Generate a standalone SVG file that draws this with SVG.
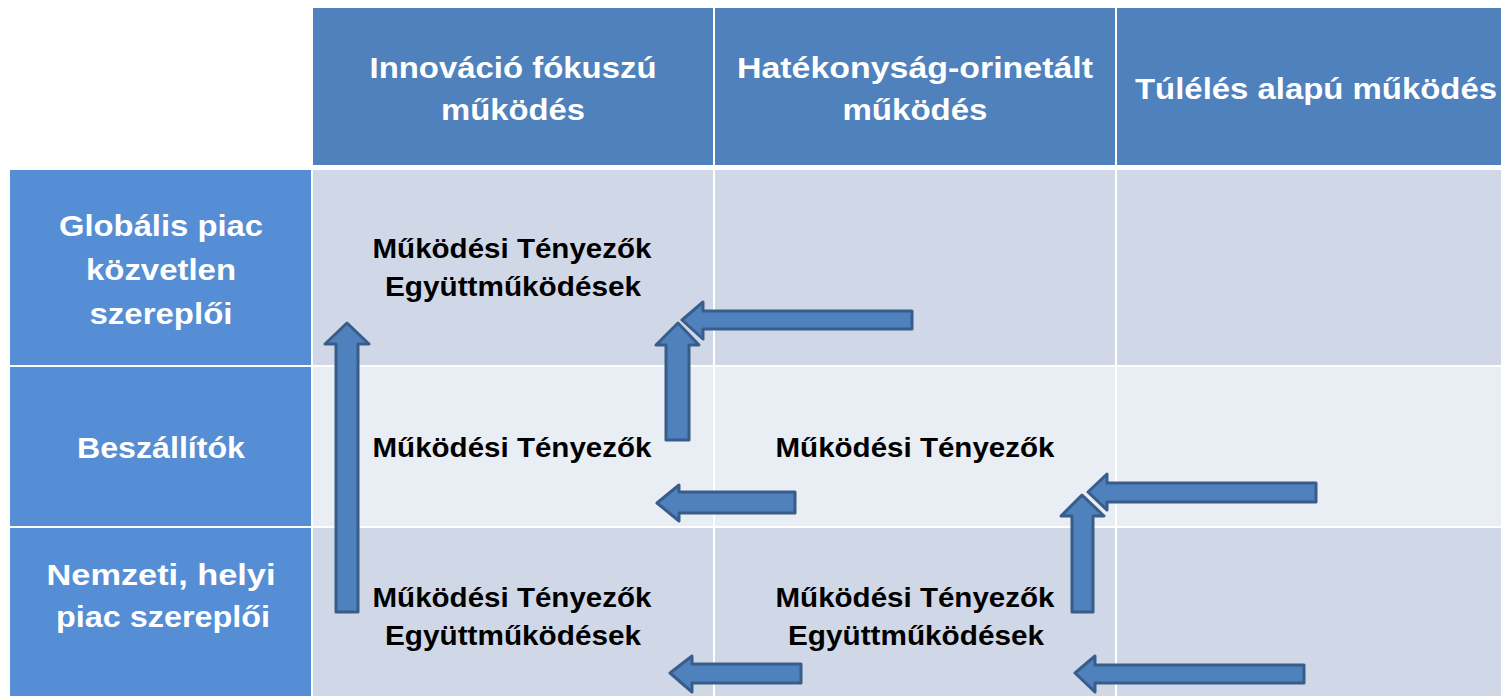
<svg xmlns="http://www.w3.org/2000/svg" width="1501" height="696" viewBox="0 0 1501 696">
<style>
.hdr{fill:#4F81BD}
.lft{fill:#558ED5}
.c1{fill:#D0D8E8}
.c2{fill:#E9EDF4}
.ht{font-family:"Liberation Sans",Arial,sans-serif;font-weight:bold;font-size:30px;fill:#fff;text-anchor:middle}
.lt{font-family:"Liberation Sans",Arial,sans-serif;font-weight:bold;font-size:30px;fill:#fff;text-anchor:middle}
.ct{font-family:"Liberation Sans",Arial,sans-serif;font-weight:bold;font-size:27px;fill:#000;text-anchor:middle}
.arr{fill:#4F81BD;stroke:#385D8A;stroke-width:3;stroke-linejoin:round}
</style>
<rect width="1501" height="696" fill="#fff"/>
<g id="header">
<g id="h-innovacio"><rect class="hdr" x="313" y="8" width="400" height="157"/>
<text class="ht" x="513" y="78" textLength="287" lengthAdjust="spacingAndGlyphs">Innováció fókuszú</text>
<text class="ht" x="513" y="120" textLength="144" lengthAdjust="spacingAndGlyphs">működés</text></g>
<g id="h-hatekonysag"><rect class="hdr" x="715" y="8" width="400" height="157"/>
<text class="ht" x="915" y="78" textLength="356" lengthAdjust="spacingAndGlyphs">Hatékonyság-orinetált</text>
<text class="ht" x="915" y="120" textLength="145" lengthAdjust="spacingAndGlyphs">működés</text></g>
<g id="h-tuleles"><rect class="hdr" x="1117" y="8" width="384" height="157"/>
<text class="ht" x="1316" y="99" textLength="362" lengthAdjust="spacingAndGlyphs">Túlélés alapú működés</text></g>
</g>
<g id="rows">
<g id="r-globalis"><rect class="lft" x="10" y="170" width="301" height="195"/>
<text class="lt" x="161" y="236" textLength="204" lengthAdjust="spacingAndGlyphs">Globális piac</text>
<text class="lt" x="161" y="280" textLength="150" lengthAdjust="spacingAndGlyphs">közvetlen</text>
<text class="lt" x="161" y="324" textLength="143" lengthAdjust="spacingAndGlyphs">szereplői</text></g>
<g id="r-beszallitok"><rect class="lft" x="10" y="367" width="301" height="159"/>
<text class="lt" x="161" y="458" textLength="168" lengthAdjust="spacingAndGlyphs">Beszállítók</text></g>
<g id="r-nemzeti"><rect class="lft" x="10" y="528" width="301" height="168"/>
<text class="lt" x="161" y="585" textLength="229" lengthAdjust="spacingAndGlyphs">Nemzeti, helyi</text>
<text class="lt" x="163" y="627" textLength="214" lengthAdjust="spacingAndGlyphs">piac szereplői</text></g>
</g>
<g id="cells">
<g id="c-1-1"><rect class="c1" x="313" y="170" width="400" height="195"/>
<text class="ct" x="512" y="258" textLength="279" lengthAdjust="spacingAndGlyphs">Működési Tényezők</text>
<text class="ct" x="513" y="296" textLength="256" lengthAdjust="spacingAndGlyphs">Együttműködések</text></g>
<g id="c-1-2"><rect class="c1" x="715" y="170" width="400" height="195"/></g>
<g id="c-1-3"><rect class="c1" x="1117" y="170" width="384" height="195"/></g>
<g id="c-2-1"><rect class="c2" x="313" y="367" width="400" height="159"/>
<text class="ct" x="512" y="457" textLength="279" lengthAdjust="spacingAndGlyphs">Működési Tényezők</text></g>
<g id="c-2-2"><rect class="c2" x="715" y="367" width="400" height="159"/>
<text class="ct" x="915" y="457" textLength="279" lengthAdjust="spacingAndGlyphs">Működési Tényezők</text></g>
<g id="c-2-3"><rect class="c2" x="1117" y="367" width="384" height="159"/></g>
<g id="c-3-1"><rect class="c1" x="313" y="528" width="400" height="168"/>
<text class="ct" x="512" y="607" textLength="279" lengthAdjust="spacingAndGlyphs">Működési Tényezők</text>
<text class="ct" x="513" y="645" textLength="256" lengthAdjust="spacingAndGlyphs">Együttműködések</text></g>
<g id="c-3-2"><rect class="c1" x="715" y="528" width="400" height="168"/>
<text class="ct" x="915" y="607" textLength="279" lengthAdjust="spacingAndGlyphs">Működési Tényezők</text>
<text class="ct" x="916" y="645" textLength="256" lengthAdjust="spacingAndGlyphs">Együttműködések</text></g>
<g id="c-3-3"><rect class="c1" x="1117" y="528" width="384" height="168"/></g>
</g>
<g id="connectors">
<polygon class="arr" points="336,612 336,344 325,344 347,323 369,344 358,344 358,612"/>
<polygon class="arr" points="666,440 666,345 656,345 678,323 699,345 689,345 689,440"/>
<polygon class="arr" points="912,311 703,311 703,302 682,320 703,339 703,329 912,329"/>
<polygon class="arr" points="795,492 679,492 679,485 657,503 679,521 679,513 795,513"/>
<polygon class="arr" points="801,664 692,664 692,656 670,673 692,692 692,683 801,683"/>
<polygon class="arr" points="1072,612 1072,516 1061,516 1082,495 1104,516 1093,516 1093,612"/>
<polygon class="arr" points="1316,483 1107,483 1107,474 1088,492 1107,510 1107,502 1316,502"/>
<polygon class="arr" points="1304,665 1095,665 1095,656 1075,673 1095,692 1095,683 1304,683"/>
</g>
</svg>
